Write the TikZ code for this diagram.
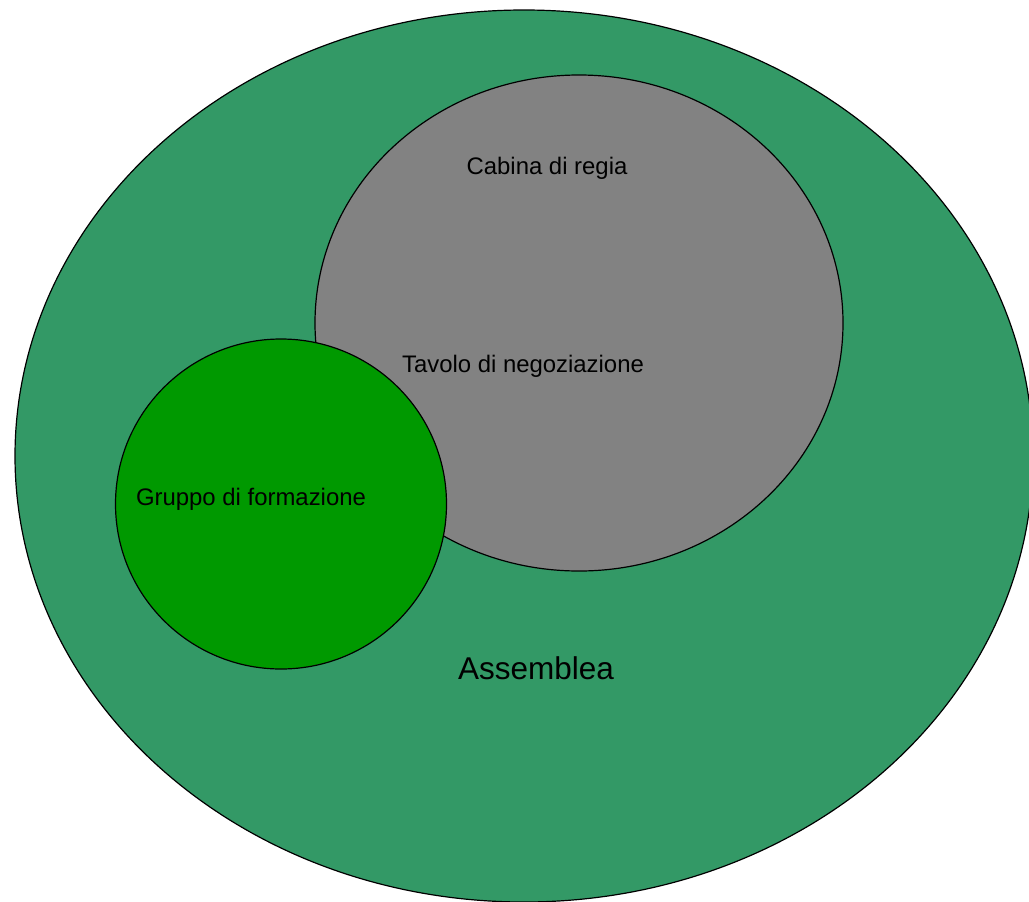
\documentclass[tikz,border=0pt]{standalone}
\usepackage{fontspec}
\setmainfont{Liberation Sans}
\usetikzlibrary{shapes.geometric}
\definecolor{assemblygreen}{RGB}{51,153,102}
\definecolor{groupgreen}{RGB}{0,153,0}
\definecolor{boardgray}{RGB}{130,130,130}
\def\px{0.025cm}

\begin{document}
\begin{tikzpicture}[x=\px, y=-\px, line width=0.85pt]
  \tikzstyle{set}=[ellipse, draw=black, inner sep=0pt]
  \tikzstyle{assembly set}=[set, fill=assemblygreen];
  \tikzstyle{board set}=[set, fill=boardgray];
  \tikzstyle{group set}=[set, fill=groupgreen];
  \tikzstyle{annot}=[inner sep=0pt, font=\fontsize{17}{20}\selectfont]

  % Page frame
  \useasboundingbox (0,0) rectangle (1029,901);

  % Draw the sets
  \node[assembly set, minimum width=1018*\px, minimum height=892*\px] (A) at (524,456) {};
  \node[board set, minimum width=528*\px, minimum height=496*\px] (B) at (579,323) {};
  \node[group set, minimum width=331*\px, minimum height=330*\px] (G) at (281,504) {};

  % Labels
  \node[annot] (bl) at (547,168) {Cabina di regia};
  \node[annot] (tl) at (523,366) {Tavolo di negoziazione};
  \node[annot] (gl) at (251,499) {Gruppo di formazione};
  \node[annot, font=\fontsize{22.4}{26}\selectfont] (al) at (536,668) {Assemblea};
\end{tikzpicture}
\end{document}
